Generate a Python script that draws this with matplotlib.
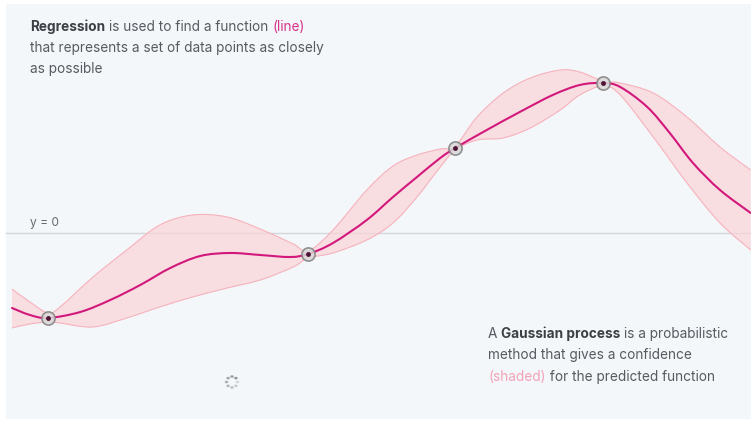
import numpy as np
import matplotlib.pyplot as plt
from matplotlib.patches import Rectangle, PathPatch
from matplotlib.path import Path

W, H = 751, 421

# predicted mean (x, y)
mean_x = [0.16, 0.40, 0.64, 1.07, 1.47, 1.87, 2.27, 2.67, 3.07, 3.47, 3.87, 4.11,
          4.44, 4.89, 5.24, 5.56, 5.87, 6.07, 6.49, 6.93, 7.37, 7.73, 8.04, 8.27, 8.63,
          8.93, 9.24, 9.60, 10.01]
mean_y = [-1.50, -1.64, -1.70, -1.58, -1.34, -1.04, -0.70, -0.46, -0.40, -0.44, -0.48, -0.42,
          -0.20, 0.26, 0.72, 1.12, 1.50, 1.70, 2.06, 2.42, 2.76, 2.96, 3.00, 2.92, 2.52,
          2.00, 1.40, 0.86, 0.40]

# confidence band
band_x = [0.16, 0.40, 0.64, 0.80, 1.24, 1.69, 2.13, 2.57, 3.03, 3.47, 3.91, 4.11, 4.44,
          4.89, 5.24, 5.56, 5.87, 6.07, 6.36, 6.71, 7.07, 7.47, 7.73, 8.04, 8.27, 8.71,
          9.16, 9.60, 10.01]
band_hi = [-1.12, -1.38, -1.60, -1.48, -0.88, -0.34, 0.16, 0.36, 0.32, 0.08, -0.22, -0.36, 0.06,
           0.86, 1.34, 1.56, 1.68, 1.74, 2.32, 2.80, 3.10, 3.26, 3.22, 3.04, 3.00, 2.80,
           2.32, 1.72, 1.26]
band_lo = [-1.90, -1.82, -1.78, -1.80, -1.88, -1.70, -1.48, -1.28, -1.10, -0.94, -0.68, -0.50, -0.40,
           -0.14, 0.20, 0.72, 1.32, 1.66, 1.86, 1.90, 2.10, 2.46, 2.76, 2.94, 2.76, 1.92,
           1.00, 0.20, -0.34]

# observed data points
obs_x = [0.64, 4.11, 6.07, 8.04]
obs_y = [-1.70, -0.42, 1.70, 3.00]


def smooth_path(xs, ys, start=True):
    # Catmull-Rom segments through the given points as cubic Bezier curves
    p = np.column_stack([xs, ys])
    pad = np.vstack([p[0], p, p[-1]])
    verts = [p[0]] if start else []
    codes = [Path.MOVETO] if start else []
    for i in range(len(p) - 1):
        a, b, c, d = pad[i], pad[i + 1], pad[i + 2], pad[i + 3]
        verts += [b + (c - a) / 6, c - (d - b) / 6, c]
        codes += [Path.CURVE4] * 3
    return verts, codes


fig = plt.figure(figsize=(W / 100, H / 100), dpi=100, facecolor='white')
fig.patches.append(Rectangle((6 / W, 1 - 419 / H), 745 / W, 415 / H,
                             transform=fig.transFigure, facecolor='#f4f7f9',
                             edgecolor='none', zorder=0))

ax = fig.add_axes([0, 0, 1, 1])
ax.set_zorder(1)
ax.set_xlim(0, W / 75)
ax.set_ylim((233 - H) / 50, 233 / 50)
ax.axis('off')
ax.patch.set_alpha(0)

# y = 0 reference line
ax.axhline(0, xmin=6 / W, xmax=1, color='#d3d6da', lw=1, zorder=1)
ax.text(0.40, 0.2, 'y = 0', fontsize=8.6, color='#676b70', family='Inter', va='center')

# shaded band: upper edge forward, lower edge back
v_hi, c_hi = smooth_path(band_x, band_hi)
v_lo, c_lo = smooth_path(band_x[::-1], band_lo[::-1])
c_lo[0] = Path.LINETO
band = Path(v_hi + v_lo + [v_hi[0]], c_hi + c_lo + [Path.CLOSEPOLY])
ax.add_patch(PathPatch(band, facecolor='#fbd3d8', alpha=0.7, lw=0, zorder=2))
for ys in (band_hi, band_lo):
    v, c = smooth_path(band_x, ys)
    ax.add_patch(PathPatch(Path(v, c), facecolor='none', edgecolor='#f6b2bd', lw=0.8, zorder=3))

v, c = smooth_path(mean_x, mean_y)
ax.add_patch(PathPatch(Path(v, c), facecolor='none', edgecolor='#d3187c', lw=1.5,
                       capstyle='round', zorder=4))

ax.plot(obs_x, obs_y, 'o', ms=9.5, mfc='#d9d9d9', mec='#808080', mew=1.2, alpha=0.85, zorder=5)
ax.plot(obs_x, obs_y, 'o', ms=3.5, mfc='#4e1433', mec='none', zorder=6)

# loading spinner
ang = np.linspace(0, 2 * np.pi, 9)[:-1]
for i, a in enumerate(ang):
    fig.patches.append(plt.Circle(((232 + 5.5 * np.cos(a)) / W, 1 - (382 + 5.5 * np.sin(a)) / H),
                                  1.1 / W, transform=fig.transFigure,
                                  color='#8c8c8c', alpha=0.25 + 0.08 * i, zorder=7))

renderer = fig.canvas.get_renderer()


def write(x, y, parts, size=9.8):
    for s, color, weight in parts:
        t = fig.text(x / W, 1 - y / H, s, color=color, fontsize=size, fontweight=weight,
                     family='Inter', va='center', ha='left', zorder=8)
        x += t.get_window_extent(renderer=renderer).width


body = '#575b61'
bold = '#3c3f44'

write(30, 27, [('Regression', bold, 'bold'), (' is used to find a function ', body, 'normal'),
               ('(line)', '#d6338a', 'normal')])
write(30, 48, [('that represents a set of data points as closely', body, 'normal')])
write(30, 69, [('as possible', body, 'normal')])

write(488, 334, [('A ', body, 'normal'), ('Gaussian process', bold, 'bold'),
                 (' is a probabilistic', body, 'normal')])
write(488, 355, [('method that gives a confidence', body, 'normal')])
write(488, 377, [('(shaded)', '#f3a3b8', 'normal'), (' for the predicted function', body, 'normal')])

fig.savefig('out.png', dpi=100, facecolor='white')
